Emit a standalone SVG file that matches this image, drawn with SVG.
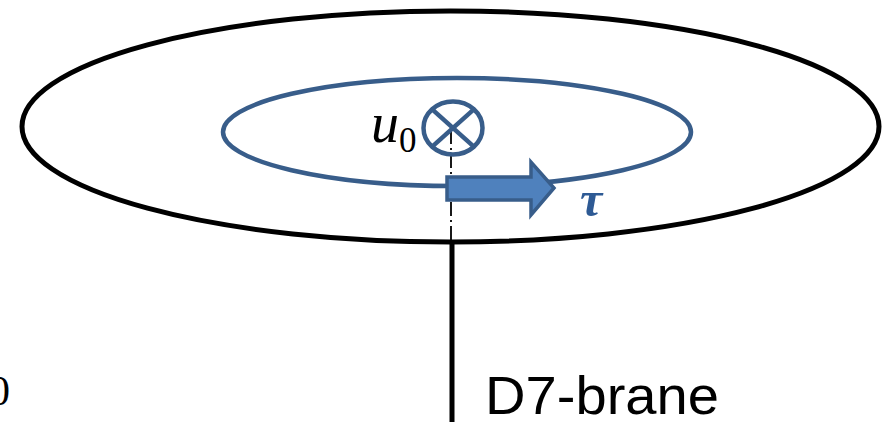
<svg xmlns="http://www.w3.org/2000/svg" width="882" height="422" viewBox="0 0 882 422">
<style>
.blk{fill:none;stroke:#000;stroke-width:5}
.blue{fill:none;stroke:#385D8A;stroke-width:4.5}
.dd{fill:none;stroke:#000;stroke-width:1.8;stroke-dasharray:14 4 2 4}
.sans{font-family:"Liberation Sans",Arial,sans-serif}
.serif{font-family:"Liberation Serif","DejaVu Serif",serif}
</style>
<rect width="882" height="422" fill="#fff"/>
<g id="outer-ellipse"><ellipse class="blk" cx="450.5" cy="126.5" rx="428.5" ry="115.5"/></g>
<g id="inner-ellipse"><ellipse class="blue" cx="457" cy="132" rx="234" ry="54"/></g>
<g id="connectors">
<line class="dd" x1="451" y1="130" x2="451" y2="242"/>
<line x1="452" y1="240" x2="452" y2="422" stroke="#000" stroke-width="5"/>
</g>
<g id="u0-marker">
<ellipse cx="453" cy="128" rx="29.5" ry="26.5" fill="none" stroke="#385D8A" stroke-width="4.5"/>
<line x1="432.2" y1="109.3" x2="473.8" y2="146.7" stroke="#385D8A" stroke-width="4.5"/>
<line x1="473.8" y1="109.3" x2="432.2" y2="146.7" stroke="#385D8A" stroke-width="4.5"/>
<text class="serif" x="371" y="142" font-size="56" font-style="italic">u</text>
<text class="serif" x="399" y="152" font-size="35">0</text>
</g>
<g id="tau-arrow">
<polygon points="447,177 531,177 531,162 554,188 531,215 531,200 447,200" fill="#4F81BD" stroke="#385D8A" stroke-width="3.5" stroke-linejoin="miter"/>
<text class="serif" x="580" y="216" font-size="50" font-style="italic" font-weight="bold" fill="#2E5A94">τ</text>
</g>
<g id="d7-label">
<text class="sans" x="485" y="414" font-size="54" textLength="234" lengthAdjust="spacingAndGlyphs">D7-brane</text>
</g>
<g id="edge-label">
<text class="serif" x="-11" y="405" font-size="42">0</text>
</g>
</svg>
